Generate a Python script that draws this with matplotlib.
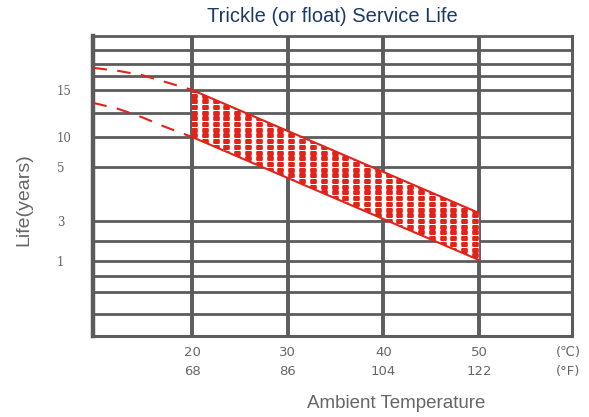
import numpy as np
import matplotlib.pyplot as plt
from matplotlib.patches import Polygon
from matplotlib.transforms import blended_transform_factory

# temperature axis (deg C) with the matching deg F labels
temp_c = [20, 30, 40, 50]
temp_f = [68, 86, 104, 122]

# chart rows (0 = bottom, 300 = top), the life scale is not linear
life_labels = ["15", "10", "5", "3", "1"]
life_rows = [246, 199, 169, 115, 75]
grid_rows = [286, 272, 260, 246, 223, 199, 169, 115, 95, 75, 60, 44, 22]

# shaded service life band from 20 to 50 C
band_temp = [20, 50]
band_upper = [246, 123]
band_lower = [199, 76]

# dashed extension below 20 C
ext_temp = [9.7, 12.3, 14.7, 17.2, 20]
ext_upper = [268, 265, 261, 254, 246]
ext_lower = [233, 227, 219, 209, 199]

red = "#e2231a"
grey = "#5c5c5c"
txt = "#666666"

fig = plt.figure(figsize=(5.89, 4.17), dpi=100)
ax = fig.add_axes([0.158, 0.194, 0.813, 0.72])
ax.set_xlim(9.66, 59.7)
ax.set_ylim(0, 300)

# grid
for r in grid_rows:
    ax.axhline(r, color=grey, lw=2, zorder=1)
for t in temp_c:
    ax.axvline(t, color=grey, lw=2.8, zorder=1)
for side, w in [("left", 3.2), ("right", 2.2), ("top", 2), ("bottom", 2.2)]:
    ax.spines[side].set_color(grey)
    ax.spines[side].set_linewidth(w)

# white band hides the grid, then the red square texture on top
pts = list(zip(band_temp, band_upper)) + list(zip(band_temp[::-1], band_lower[::-1]))
band = Polygon(pts, closed=True, fc="white", ec="none", zorder=3)
ax.add_patch(band)
gx, gy = np.meshgrid(np.arange(20.2, 50.5, 1.13), np.arange(1, 300, 5.7))
sq = [(-3, -1.9), (3, -1.9), (3, 1.9), (-3, 1.9), (-3, -1.9)]
dots = ax.scatter(gx.ravel(), gy.ravel(), marker=sq, s=23, c=red, lw=0, zorder=4)
dots.set_snap(False)
dots.set_clip_path(band)

ax.plot(band_temp, band_upper, color=red, lw=1.5, zorder=5)
ax.plot(band_temp, band_lower, color=red, lw=1.5, zorder=5)
ax.plot(ext_temp, ext_upper, color=red, lw=1.5, dashes=(6.5, 5), zorder=5)
ax.plot(ext_temp, ext_lower, color=red, lw=1.5, dashes=(6.5, 5), zorder=5)

# ticks
ax.set_xticks(temp_c, [f"{c}\n{f}" for c, f in zip(temp_c, temp_f)])
ax.tick_params(axis="x", length=0, pad=7, labelsize=9.5, labelcolor=txt)
for lbl in ax.get_xticklabels():
    lbl.set_linespacing(1.6)
    lbl.set_fontfamily("DejaVu Sans")

ax.set_yticks(life_rows, life_labels)
ax.tick_params(axis="y", length=0, pad=26, labelsize=8.5, labelcolor=txt)
for lbl in ax.get_yticklabels():
    lbl.set_horizontalalignment("left")
    lbl.set_fontfamily("DejaVu Serif")

trans = blended_transform_factory(ax.transData, ax.transAxes)
ax.text(59.3, -0.032, "(\u2103)\n(\u00b0F)", transform=trans, ha="center", va="top",
        fontsize=9.5, color=txt, linespacing=1.6, family=["DejaVu Sans"])

fig.text(332 / 589, 1 - 17 / 417, "Trickle (or float) Service Life", ha="center", va="center",
         fontsize=14.5, color="#1b3a66", family="Liberation Sans")
fig.text(396 / 589, 1 - 403 / 417, "Ambient Temperature", ha="center", va="center",
         fontsize=13.5, color=txt, family="Liberation Sans")
fig.text(24 / 589, 1 - 200 / 417, "Life(years)", ha="center", va="center", rotation=90,
         fontsize=14, color=txt, family="Liberation Sans")

fig.savefig("out.png", dpi=100)
